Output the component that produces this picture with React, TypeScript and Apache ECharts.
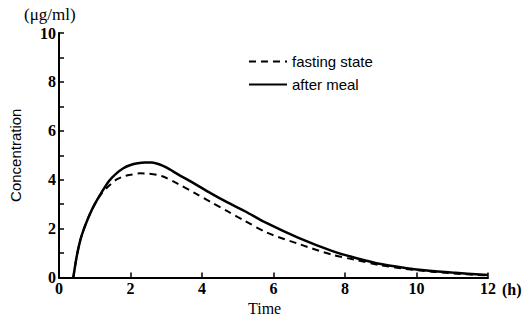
import React, { useEffect, useRef } from "react";
import * as echarts from "echarts";

const afterMealT = [0.4, 0.5, 0.6, 0.7, 0.85, 1.0, 1.2, 1.4, 1.6, 1.8, 2.0, 2.2, 2.4, 2.6, 2.8, 3.0, 3.33, 3.8, 4.25, 4.7, 5.2, 5.8, 6.7, 7.65, 8.3, 9.0, 10.0, 11.0, 12.0];
const afterMealV = [0, 0.9, 1.55, 2.0, 2.55, 3.0, 3.5, 3.95, 4.25, 4.47, 4.6, 4.67, 4.7, 4.7, 4.63, 4.5, 4.22, 3.83, 3.44, 3.08, 2.71, 2.23, 1.62, 1.08, 0.8, 0.55, 0.33, 0.2, 0.1];

const fastingT = [0.4, 0.5, 0.6, 0.7, 0.85, 1.0, 1.2, 1.4, 1.6, 1.8, 2.0, 2.27, 2.5, 2.87, 3.33, 3.79, 4.25, 4.71, 5.17, 5.81, 6.73, 7.65, 8.3, 9.0, 10.0, 11.0, 12.0];
const fastingV = [0, 0.9, 1.55, 2.0, 2.55, 3.0, 3.45, 3.75, 4.0, 4.13, 4.2, 4.26, 4.25, 4.15, 3.83, 3.46, 3.08, 2.71, 2.34, 1.84, 1.36, 0.93, 0.72, 0.5, 0.3, 0.17, 0.08];

const seriesNames = ["fasting state", "after meal"];
const yUnit = "(\u03bcg/ml)";
const xUnit = "(h)";
const xTitle = "Time";
const yTitle = "Concentration";

const numFont = "'Liberation Serif', 'DejaVu Serif', serif";
const sansFont = "'Liberation Sans', 'DejaVu Sans', sans-serif";

export default function App() {
  const ref = useRef<HTMLDivElement>(null);
  useEffect(() => {
    if (!ref.current) return;
    const chart = echarts.init(ref.current, undefined, { renderer: "svg" });
    chart.setOption({
      animation: false,
      backgroundColor: "#ffffff",
      grid: { left: 52.5, right: 40, top: 33, bottom: 42.5, containLabel: false },
      legend: {
        orient: "vertical",
        left: 243,
        top: 49,
        itemWidth: 38,
        itemHeight: 12,
        itemGap: 8,
        itemStyle: { opacity: 0 },
        textStyle: { fontFamily: sansFont, fontSize: 15, color: "#000" },
        data: seriesNames,
      },
      graphic: [
        {
          type: "text",
          left: 24,
          top: 6,
          style: { text: yUnit, font: `17px ${numFont}`, fill: "#000" },
        },
        {
          type: "text",
          left: 248,
          top: 300,
          style: { text: xTitle, font: `16px ${numFont}`, fill: "#000" },
        },
      ],
      xAxis: {
        type: "value",
        min: 0,
        max: 12,
        interval: 2,
        name: xUnit,
        nameLocation: "end",
        nameGap: 5,
        nameTextStyle: {
          fontFamily: numFont,
          fontSize: 16,
          fontWeight: "bold",
          color: "#000",
          verticalAlign: "top",
          padding: [4, 0, 0, 0],
        },
        axisLine: { lineStyle: { color: "#000", width: 2 } },
        axisTick: { inside: true, length: 5, lineStyle: { color: "#000", width: 1.5 } },
        axisLabel: {
          fontFamily: numFont,
          fontSize: 16,
          fontWeight: "bold",
          color: "#000",
          margin: 3,
        },
        splitLine: { show: false },
      },
      yAxis: {
        type: "value",
        min: 0,
        max: 10,
        interval: 1,
        name: yTitle,
        nameLocation: "middle",
        nameGap: 36,
        nameTextStyle: { fontFamily: sansFont, fontSize: 15, color: "#000" },
        axisLine: { show: true, lineStyle: { color: "#000", width: 2 } },
        axisTick: { show: true, inside: true, length: 5, lineStyle: { color: "#000", width: 1.5 } },
        axisLabel: {
          fontFamily: numFont,
          fontSize: 16,
          fontWeight: "bold",
          color: "#000",
          margin: 3,
          formatter: (v: number) => (v % 2 === 0 ? String(v) : ""),
        },
        splitLine: { show: false },
      },
      series: [
        {
          name: seriesNames[0],
          type: "line",
          smooth: 0.3,
          symbol: "none",
          data: fastingT.map((t, i) => [t, fastingV[i]]),
          lineStyle: { color: "#000", width: 2, type: [7, 5] },
          itemStyle: { color: "#000" },
        },
        {
          name: seriesNames[1],
          type: "line",
          smooth: 0.3,
          symbol: "none",
          data: afterMealT.map((t, i) => [t, afterMealV[i]]),
          lineStyle: { color: "#000", width: 2.5, type: "solid" },
          itemStyle: { color: "#000" },
        },
      ],
    });
    return () => chart.dispose();
  }, []);
  return (
    <div
      ref={ref}
      style={{ position: "absolute", left: 0, top: 0, width: 528, height: 320 }}
    />
  );
}
